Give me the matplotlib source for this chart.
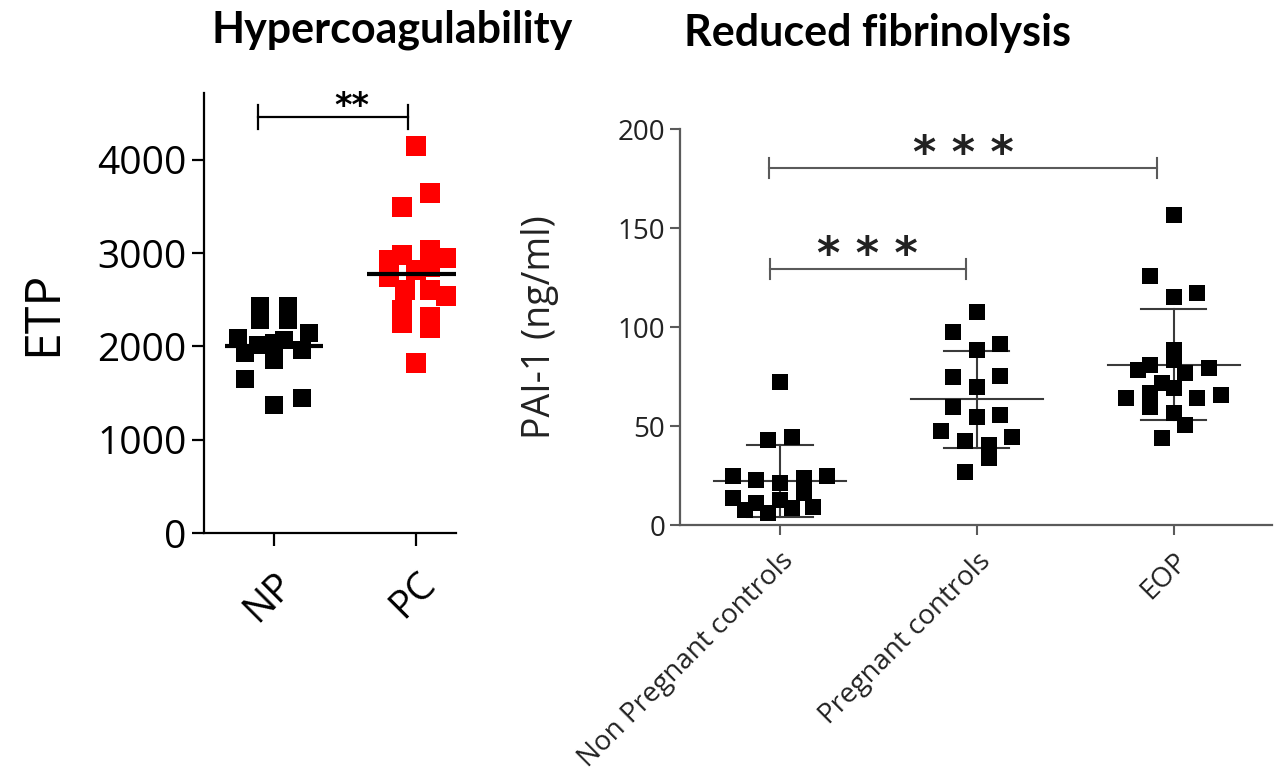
import numpy as np
import matplotlib.pyplot as plt

# ---- data ----
# left panel: ETP (hypercoagulability)
etp_groups = ["NP", "PC"]
etp_np = [2433, 2283, 2433, 2283, 2087, 1926, 2140, 1961, 2033, 1854, 2069, 2015, 1647, 1372, 1450]
etp_np_dx = [-0.10, -0.10, 0.10, 0.10, -0.25, -0.20, 0.25, 0.20, 0.0, 0.0, 0.07, -0.11, -0.20, 0.0, 0.20]
etp_pc = [4148, 3647, 3491, 2926, 2980, 3033, 2944, 2747, 2819, 2854, 2604, 2540, 2604, 2390, 2248, 2318, 2194, 1825]
etp_pc_dx = [0.0, 0.10, -0.10, -0.19, -0.10, 0.10, 0.21, -0.19, 0.0, 0.10, -0.08, 0.21, 0.10, -0.10, -0.10, 0.10, 0.10, 0.0]
etp_means = [2000, 2773]

# right panel: PAI-1 (reduced fibrinolysis)
pai_groups = ["Non Pregnant controls", "Pregnant controls", "EOP"]
pai_npc = [72.5, 43, 44.3, 24.8, 22.8, 21.4, 23.6, 24.8, 13.5, 11.3, 12.6, 16, 9.3, 7.6, 6.2, 8.4]
pai_npc_dx = [0.0, -0.06, 0.06, -0.24, -0.12, 0.0, 0.12, 0.24, -0.24, -0.12, 0.0, 0.12, 0.17, -0.18, -0.06, 0.06]
pai_pc = [107.8, 97.7, 91.5, 88.5, 74.7, 75.3, 69.9, 59.8, 54.8, 55.6, 47.7, 42.6, 40.4, 33.7, 44.3, 26.9]
pai_pc_dx = [0.0, -0.12, 0.12, 0.0, -0.12, 0.12, 0.0, -0.12, 0.0, 0.12, -0.18, -0.06, 0.06, 0.06, 0.18, -0.06]
pai_eop = [156.7, 125.9, 115.4, 117.1, 88.5, 83.4, 80.9, 78.4, 76.7, 79.2, 71.6, 69.1, 66.6, 64.1, 59.8, 64.1, 65.7, 56.8, 50.6, 43.8]
pai_eop_dx = [0.0, -0.12, 0.0, 0.12, 0.0, 0.0, -0.12, -0.18, 0.06, 0.18, -0.06, 0.0, -0.12, -0.24, -0.12, 0.12, 0.24, 0.0, 0.06, -0.06]
pai_means = [22.2, 63.5, 81.0]
pai_sds = [18.0, 24.5, 28.0]

# ---- figure ----
W, H = 1281, 776
fig = plt.figure(figsize=(W / 100, H / 100), dpi=100)
FONT = "Open Sans"

fig.text(392 / W, 1 - 30 / H, "Hypercoagulability", ha="center", va="center",
         fontsize=31, fontweight="bold", family="Lato")
fig.text(877 / W, 1 - 33 / H, "Reduced fibrinolysis", ha="center", va="center",
         fontsize=31, fontweight="bold", family="Lato")

# left panel
ax1 = fig.add_axes([204 / W, 1 - 533 / H, (456 - 204) / W, (533 - 93) / H])
ax1.set_xlim(-0.49, 1.28)
ax1.set_ylim(0, 4716)
for s in ["top", "right"]:
    ax1.spines[s].set_visible(False)
for s in ["left", "bottom"]:
    ax1.spines[s].set_linewidth(1.6)
ax1.plot(np.array(etp_np_dx), etp_np, "s", color="black", ms=13.5, mew=0)
ax1.plot(1 + np.array(etp_pc_dx), etp_pc, "s", color="#ff0000", ms=14, mew=0)
for i, m in enumerate(etp_means):
    ax1.plot([i - 0.345, i + 0.345], [m, m], color="black", lw=3, solid_capstyle="butt")
ax1.set_yticks([0, 1000, 2000, 3000, 4000])
ax1.set_xticks([0, 1])
ax1.set_xticklabels(etp_groups, rotation=45, ha="right", rotation_mode="anchor")
ax1.tick_params(axis="both", length=9, width=1.6, labelsize=28, color="black")
ax1.tick_params(axis="x", pad=14)
for lab in ax1.get_xticklabels() + ax1.get_yticklabels():
    lab.set_family(FONT)
ax1.set_ylabel("ETP", fontsize=36, family=FONT, labelpad=21)
# significance bracket
by = 4459
ax1.plot([-0.11, 0.94], [by, by], color="black", lw=1.6, clip_on=False)
for bx in [-0.11, 0.94]:
    ax1.plot([bx, bx], [by - 130, by + 130], color="black", lw=1.6, clip_on=False)
ax1.text(0.55, by - 60, "**", ha="center", va="bottom", fontsize=24, fontweight="bold",
         family="DejaVu Sans")

# right panel
GRAY = "#5a5a5a"
ax2 = fig.add_axes([680 / W, 1 - 525 / H, (1272 - 680) / W, (525 - 129.3) / H])
ax2.set_xlim(-0.508, 2.5)
ax2.set_ylim(0, 200)
for s in ["top", "right"]:
    ax2.spines[s].set_visible(False)
for s in ["left", "bottom"]:
    ax2.spines[s].set_linewidth(1.6)
    ax2.spines[s].set_color(GRAY)
for i, (vals, dx) in enumerate([(pai_npc, pai_npc_dx), (pai_pc, pai_pc_dx), (pai_eop, pai_eop_dx)]):
    ax2.plot(i + np.array(dx), vals, "s", color="black", ms=11.5, mew=0, zorder=3)
    m, sd = pai_means[i], pai_sds[i]
    ax2.plot([i - 0.335, i + 0.335], [m, m], color="#3a3a3a", lw=1.5, zorder=2)
    ax2.plot([i, i], [m - sd, m + sd], color="#3a3a3a", lw=1.5, zorder=2)
    for e in [m - sd, m + sd]:
        ax2.plot([i - 0.166, i + 0.166], [e, e], color="#3a3a3a", lw=1.5, zorder=2)
ax2.set_yticks([0, 50, 100, 150, 200])
ax2.set_xticks([0, 1, 2])
ax2.set_xticklabels(pai_groups, rotation=45, ha="right", rotation_mode="anchor")
ax2.tick_params(axis="both", length=7, width=1.5, color=GRAY, labelsize=20, labelcolor="#222222")
ax2.tick_params(axis="x", pad=9, labelsize=20)
for lab in ax2.get_xticklabels() + ax2.get_yticklabels():
    lab.set_family(FONT)
ax2.set_ylabel("PAI-1 (ng/ml)", fontsize=27, family=FONT, color="#222222", labelpad=42)
# significance brackets
for x0, x1, yb in [(-0.05, 0.943, 129.3), (-0.054, 1.917, 180.3)]:
    ax2.plot([x0, x1], [yb, yb], color=GRAY, lw=1.5, clip_on=False)
    for bx in [x0, x1]:
        ax2.plot([bx, bx], [yb - 5, yb + 5], color=GRAY, lw=1.5, clip_on=False)
    ax2.text((x0 + x1) / 2, yb - 4, "* * *", ha="center", va="bottom", fontsize=32,
             fontweight="bold", family="DejaVu Sans", color="#222222", clip_on=False)

fig.savefig("out.png", dpi=100)
